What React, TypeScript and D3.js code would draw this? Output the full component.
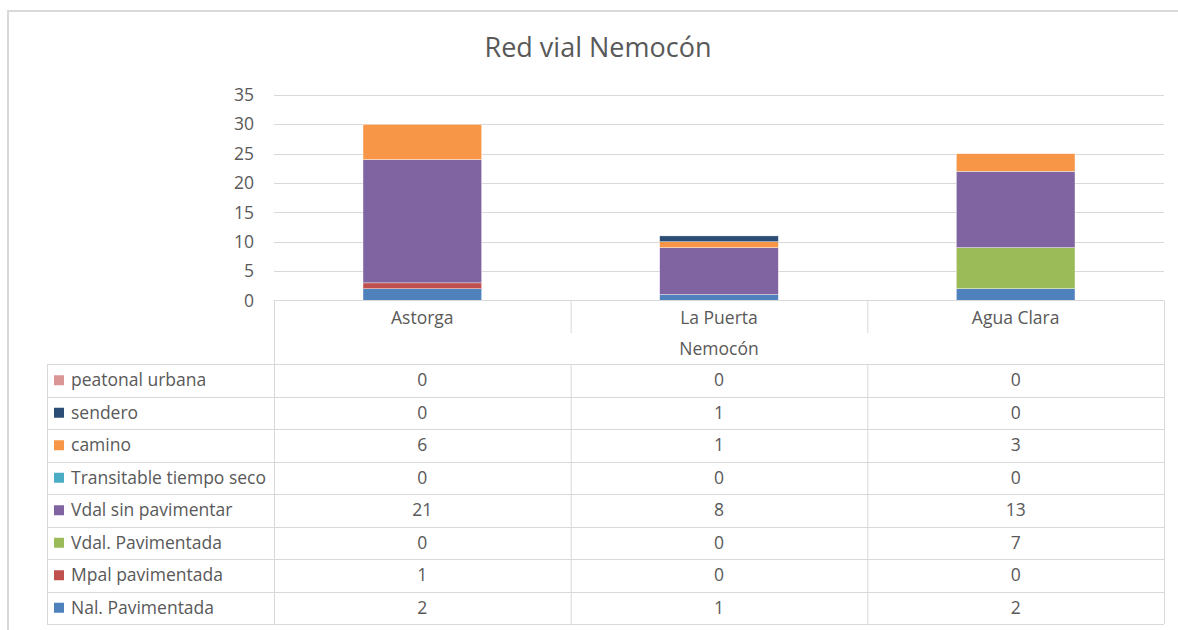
import React from 'react';
import * as d3 from 'd3';

const categories = ['Astorga', 'La Puerta', 'Agua Clara'];
const groupLabel = 'Nemocón';
const yTicks = [0, 5, 10, 15, 20, 25, 30, 35];

// series listed bottom of stack first
const seriesNames = [
  'Nal. Pavimentada',
  'Mpal pavimentada',
  'Vdal. Pavimentada',
  'Vdal sin pavimentar',
  'Transitable tiempo seco',
  'camino',
  'sendero',
  'peatonal urbana',
];
const nalPavimentada = [2, 1, 2];
const mpalPavimentada = [1, 0, 0];
const vdalPavimentada = [0, 0, 7];
const vdalSinPavimentar = [21, 8, 13];
const transitable = [0, 0, 0];
const camino = [6, 1, 3];
const sendero = [0, 1, 0];
const peatonal = [0, 0, 0];
const seriesValues = [nalPavimentada, mpalPavimentada, vdalPavimentada, vdalSinPavimentar, transitable, camino, sendero, peatonal];
const colors = ['#4F81BD', '#C0504D', '#9BBB59', '#8064A2', '#4BACC6', '#F79646', '#2C4D75', '#D99694'];

const W = 1178, H = 630;
const plotL = 274, plotR = 1164, plotT = 95, plotB = 300.5;
const tableL = 47;
const headerB = 333, groupB = 364, rowH = 32.5;
const font = "'Open Sans', 'Segoe UI', sans-serif";
const textColor = '#595959';
const lineColor = '#d9d9d9';
const fs = 17.5;

export default function App() {
  const x = d3.scaleBand<string>().domain(categories).range([plotL, plotR]).paddingInner(0.6).paddingOuter(0.3);
  const y = d3.scaleLinear().domain([0, 35]).range([plotB, plotT]);

  const rows = categories.map((c, i) => {
    const r: any = { cat: c };
    seriesNames.forEach((s, k) => (r[s] = seriesValues[k][i]));
    return r;
  });
  const stacked = d3.stack<any>().keys(seriesNames)(rows);
  const step = x.step();
  const colX = (c: string) => (x(c) as number) + x.bandwidth() / 2;
  // table rows go top-down in reverse stack order
  const tableOrder = seriesNames.map((_, k) => k).reverse();
  const rowTop = (j: number) => groupB + j * rowH;
  const tableB = rowTop(tableOrder.length);

  return (
    <svg width={W} height={H} style={{ position: 'absolute', left: 0, top: 0, background: '#fff' }} fontFamily={font}>
      <rect x={8} y={11} width={W} height={H} fill="#fff" stroke={lineColor} strokeWidth={2} />
      <text x={598} y={57} textAnchor="middle" fontSize={27} fill={textColor}>Red vial Nemocón</text>

      {yTicks.map(t => (
        <g key={t}>
          {t > 0 && <line x1={plotL} x2={plotR} y1={Math.round(y(t)) + 0.5} y2={Math.round(y(t)) + 0.5} stroke={lineColor} />}
          <text x={254} y={y(t)} dy="0.35em" textAnchor="end" fontSize={fs} fill={textColor}>{t}</text>
        </g>
      ))}

      {stacked.map((s, k) => (
        <g key={s.key} fill={colors[k]}>
          {s.map((d, i) => (d[1] - d[0] > 0 ? (
            <rect key={i} x={x(categories[i])} width={x.bandwidth()} y={y(d[1])} height={y(d[0]) - y(d[1])} stroke="#fff" strokeWidth={0.4} />
          ) : null))}
        </g>
      ))}

      {/* data table */}
      <g stroke={lineColor} fill="none">
        <line x1={plotL} x2={plotR} y1={plotB} y2={plotB} />
        <line x1={plotL + 0.5} x2={plotL + 0.5} y1={plotB} y2={tableB} />
        <line x1={plotR + 0.5} x2={plotR + 0.5} y1={plotB} y2={tableB} />
        {categories.slice(1).map(c => (
          <line key={c} x1={plotL + step * categories.indexOf(c) + 0.5} x2={plotL + step * categories.indexOf(c) + 0.5} y1={plotB} y2={headerB} />
        ))}
        <line x1={plotL} x2={plotR} y1={groupB + 0.5} y2={groupB + 0.5} />
        <line x1={tableL} x2={plotL} y1={groupB + 0.5} y2={groupB + 0.5} />
        <line x1={tableL + 0.5} x2={tableL + 0.5} y1={groupB} y2={tableB} />
        {tableOrder.map((_, j) => (
          <line key={j} x1={tableL} x2={plotR} y1={Math.round(rowTop(j + 1)) + 0.5} y2={Math.round(rowTop(j + 1)) + 0.5} />
        ))}
        {categories.slice(1).map(c => (
          <line key={'v' + c} x1={plotL + step * categories.indexOf(c) + 0.5} x2={plotL + step * categories.indexOf(c) + 0.5} y1={groupB} y2={tableB} />
        ))}
      </g>

      {categories.map(c => (
        <text key={c} x={colX(c)} y={318} dy="0.35em" textAnchor="middle" fontSize={fs} fill={textColor}>{c}</text>
      ))}
      <text x={(plotL + plotR) / 2} y={348.5} dy="0.35em" textAnchor="middle" fontSize={fs} fill={textColor}>{groupLabel}</text>

      {tableOrder.map((k, j) => {
        const cy = rowTop(j) + rowH / 2;
        return (
          <g key={seriesNames[k]}>
            <rect x={54} y={cy - 5} width={10} height={10} fill={colors[k]} />
            <text x={71} y={cy} dy="0.35em" fontSize={fs} fill={textColor}>{seriesNames[k]}</text>
            {categories.map((c, i) => (
              <text key={c} x={colX(c)} y={cy} dy="0.35em" textAnchor="middle" fontSize={fs} fill={textColor}>{seriesValues[k][i]}</text>
            ))}
          </g>
        );
      })}
    </svg>
  );
}
